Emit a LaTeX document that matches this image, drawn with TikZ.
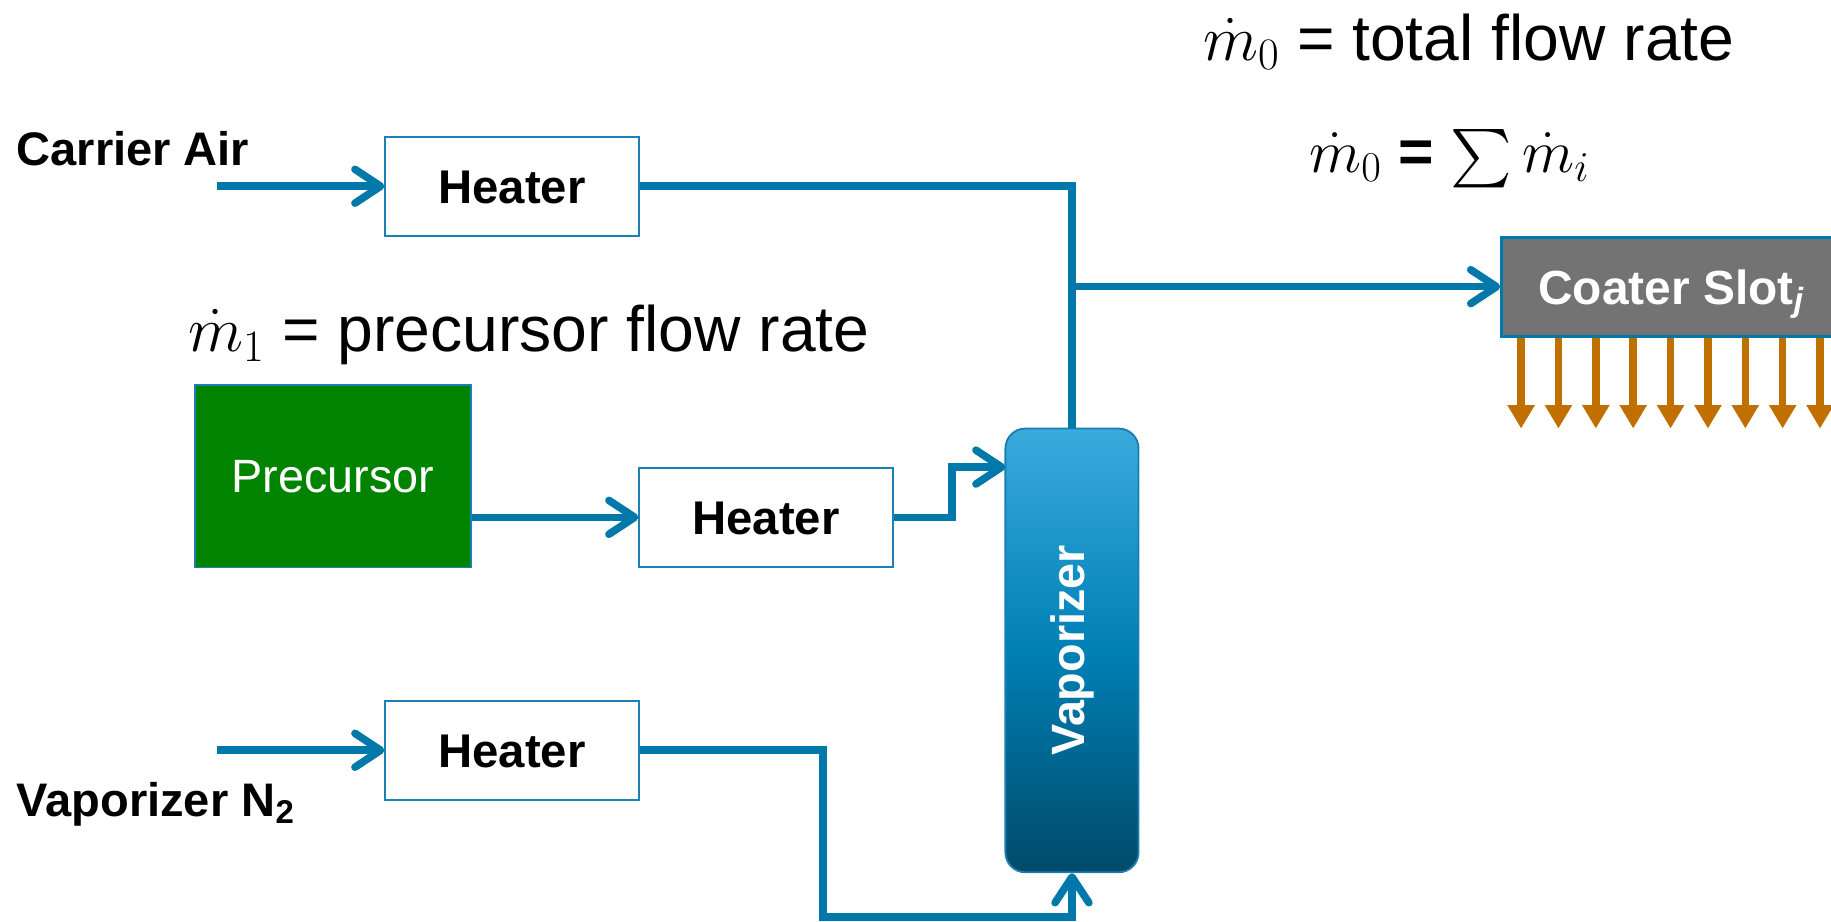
\RequirePackage{fix-cm}
\documentclass[tikz,border=0pt]{standalone}
\usepackage{fontspec}
\setmainfont{Liberation Sans}
\usetikzlibrary{arrows.meta,positioning}
\definecolor{flowblue}{HTML}{0078AA}
\definecolor{boxblue}{HTML}{1C80B4}
\definecolor{precgreen}{HTML}{008400}
\definecolor{slotgray}{HTML}{737373}
\definecolor{slotorange}{HTML}{BF7000}
\definecolor{vaptop}{HTML}{3AAADD}
\definecolor{vapmid}{HTML}{0080B5}
\definecolor{vapbot}{HTML}{004A6A}
\definecolor{vapborder}{HTML}{1A7FB0}
\tikzset{
  x=1pt, y=-1pt,
  heaterbox/.style={draw=boxblue, line width=1.6pt, fill=white, minimum width=217pt, minimum height=85pt, inner sep=0pt,
    text height=29pt, text depth=0pt, font=\fontsize{40.5}{48}\selectfont\bfseries},
  flow/.style={draw=flowblue, line width=6.5pt, line join=miter,
    -{Straight Barb[length=22pt, width=29pt, round]}},
  pipe/.style={draw=flowblue, line width=6.5pt, line join=miter},
  oarr/.style={draw=slotorange, line width=6.5pt, -{Triangle[length=20pt, width=22pt]}},
  lbl/.style={inner sep=0pt, anchor=base west, font=\fontsize{40.3}{48}\selectfont\bfseries},
  big/.style={inner sep=0pt, anchor=base west, font=\fontsize{55}{62}\selectfont},
}
\begin{document}
\begin{tikzpicture}
\useasboundingbox (0,0) rectangle (1568,789);

% formulas
\node[big] (tot) at (1030,51.4) {$\dot m_0$ = total flow rate};
\node[inner sep=0pt, anchor=base west, font=\fontsize{52}{60}\selectfont] (sum) at (1121,148)
  {$\dot m_0$ \textbf{=} \scalebox{5.0}{\normalsize$\sum$}\,$\dot m_i$};
\node[big] (pfr) at (161,301) {$\dot m_1$ = precursor flow rate};

% labels
\node[lbl] (carrier) at (14,142) {Carrier Air};
\node[lbl] (vapn2) at (14,699) {Vaporizer N\textsubscript{2}};

% boxes
\node[heaterbox] (h1) at (438.5,159.5) {Heater};
\node[heaterbox] (h2) at (656,443) {Heater};
\node[heaterbox] (h3) at (438.5,642.5) {Heater};
\node[draw=boxblue, line width=1.6pt, fill=precgreen, minimum width=236pt, minimum height=156pt, inner sep=0pt,
  text=white, font=\fontsize{40}{48}\selectfont] (prec) at (285,408) {Precursor};
\node[draw=vapborder, line width=1.6pt, rounded corners=17pt, top color=vaptop, bottom color=vapbot, middle color=vapmid,
  minimum width=114pt, minimum height=380pt, inner sep=0pt] (vap) at (918,557) {};
\node[rotate=90, text=white, font=\fontsize{40}{48}\selectfont\bfseries, inner sep=0pt] (vaptxt) at (vap.center) {Vaporizer};
\node[draw=flowblue, line width=2.5pt, fill=slotgray, minimum width=290pt, minimum height=85pt, inner sep=0pt,
  text height=30pt, text depth=0pt,
  text=white, font=\fontsize{41}{48}\selectfont\bfseries] (coater) at (1431,245.5) {Coater Slot\textsubscript{\itshape j}};

% inputs
\coordinate (ca) at (186,159.5);
\coordinate (vn) at (186,642.5);
\draw[flow] (ca) -- (h1.west);
\draw[flow] (vn) -- (h3.west);
\draw[flow] (prec.east |- h2.west) -- (h2.west);

% heater 1 to vaporizer top
\draw[pipe] (h1.east) -| (vap.north);
\draw[flow] (vap.north |- coater.west) -- (coater.west);

% heater 2 to vaporizer side
\coordinate (step) at (815,443);
\coordinate (vin) at (861,400);
\draw[flow] (h2.east) -- (step) |- (vin);

% heater 3 to vaporizer bottom
\coordinate (b1) at (705,785.5);
\draw[flow] (h3.east) -| (b1) -| (vap.south);

% orange outlets
\foreach \i in {0,...,8} {
  \coordinate (o\i) at (1302.6+32*\i,367);
  \draw[oarr] (o\i |- coater.south) -- (o\i);
}
\end{tikzpicture}
\end{document}
